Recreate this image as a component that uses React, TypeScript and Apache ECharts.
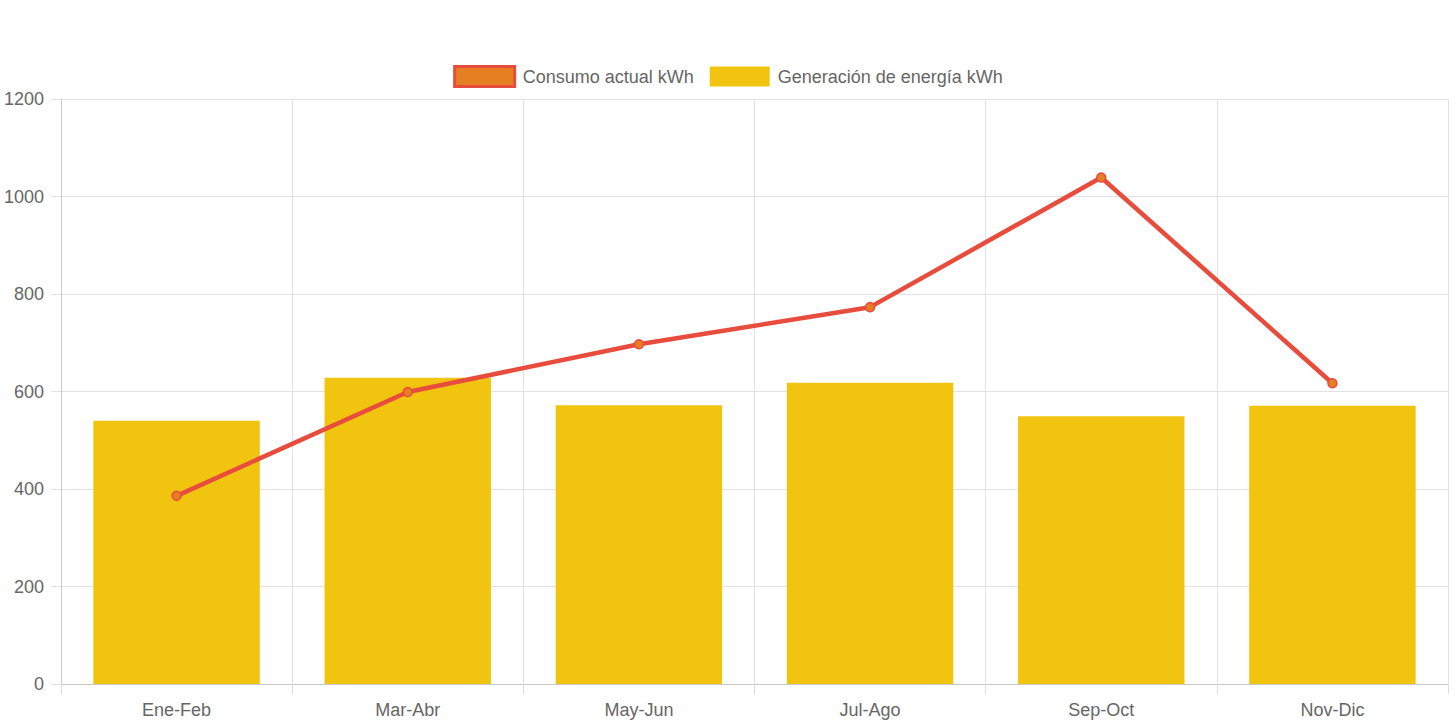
import React, { useEffect, useRef } from "react";
import * as echarts from "echarts";

const categories = ["Ene-Feb", "Mar-Abr", "May-Jun", "Jul-Ago", "Sep-Oct", "Nov-Dic"];
const consumo = [386, 599, 697, 773, 1039, 617];
const generacion = [540, 628, 572, 618, 549, 571];
const yTicks = { min: 0, max: 1200, interval: 200 };

const FONT = "'Liberation Sans', Arial, Helvetica, sans-serif";

export default function App() {
  const ref = useRef<HTMLDivElement>(null);
  useEffect(() => {
    document.body.style.margin = "0";
    const chart = echarts.init(ref.current!, null, { renderer: "svg" });
    chart.setOption({
      animation: false,
      backgroundColor: "#ffffff",
      textStyle: { fontFamily: FONT },
      legend: {
        top: 60,
        left: "center",
        itemWidth: 60,
        itemHeight: 20,
        itemGap: 16,
        textStyle: { fontSize: 18, color: "#666666", fontFamily: FONT, padding: [0, 0, 0, 3] },
        data: [
          {
            name: "Consumo actual kWh",
            icon: "rect",
            itemStyle: { color: "#E67E22", borderColor: "#E74C3C", borderWidth: 3 },
          },
          {
            name: "Generación de energía kWh",
            icon: "rect",
            itemStyle: { color: "#F1C40F", borderColor: "#F1C40F", borderWidth: 0 },
          },
        ],
      },
      grid: { left: 61, right: 8, top: 99, bottom: 43, containLabel: false, outerBoundsMode: "none" },
      xAxis: {
        type: "category",
        data: categories,
        boundaryGap: true,
        axisLine: { show: true, lineStyle: { color: "#c8c8c8", width: 1 } },
        axisTick: { show: true, length: 10, lineStyle: { color: "#dcdcdc" } },
        splitLine: { show: true, lineStyle: { color: "#e2e2e2", width: 1 } },
        axisLabel: { color: "#666666", fontSize: 18, fontFamily: FONT, margin: 17 },
      },
      yAxis: {
        type: "value",
        min: yTicks.min,
        max: yTicks.max,
        interval: yTicks.interval,
        axisLine: { show: true, lineStyle: { color: "#c8c8c8", width: 1 } },
        axisTick: { show: true, length: 10, lineStyle: { color: "#e2e2e2" } },
        splitLine: { show: true, lineStyle: { color: "#e2e2e2", width: 1 } },
        axisLabel: {
          color: "#666666",
          fontSize: 18,
          fontFamily: FONT,
          margin: 17,
          formatter: (v: number) => String(v),
        },
      },
      series: [
        {
          name: "Consumo actual kWh",
          type: "line",
          data: consumo,
          z: 5,
          symbol: "circle",
          symbolSize: 9,
          lineStyle: { color: "#E74C3C", width: 4.5 },
          itemStyle: { color: "#E67E22", borderColor: "#E74C3C", borderWidth: 1.5 },
        },
        {
          name: "Generación de energía kWh",
          type: "bar",
          data: generacion,
          z: 2,
          barWidth: "72%",
          itemStyle: { color: "#F1C40F" },
        },
      ],
    });
    return () => chart.dispose();
  }, []);
  return <div ref={ref} style={{ width: 1456, height: 727 }} />;
}
